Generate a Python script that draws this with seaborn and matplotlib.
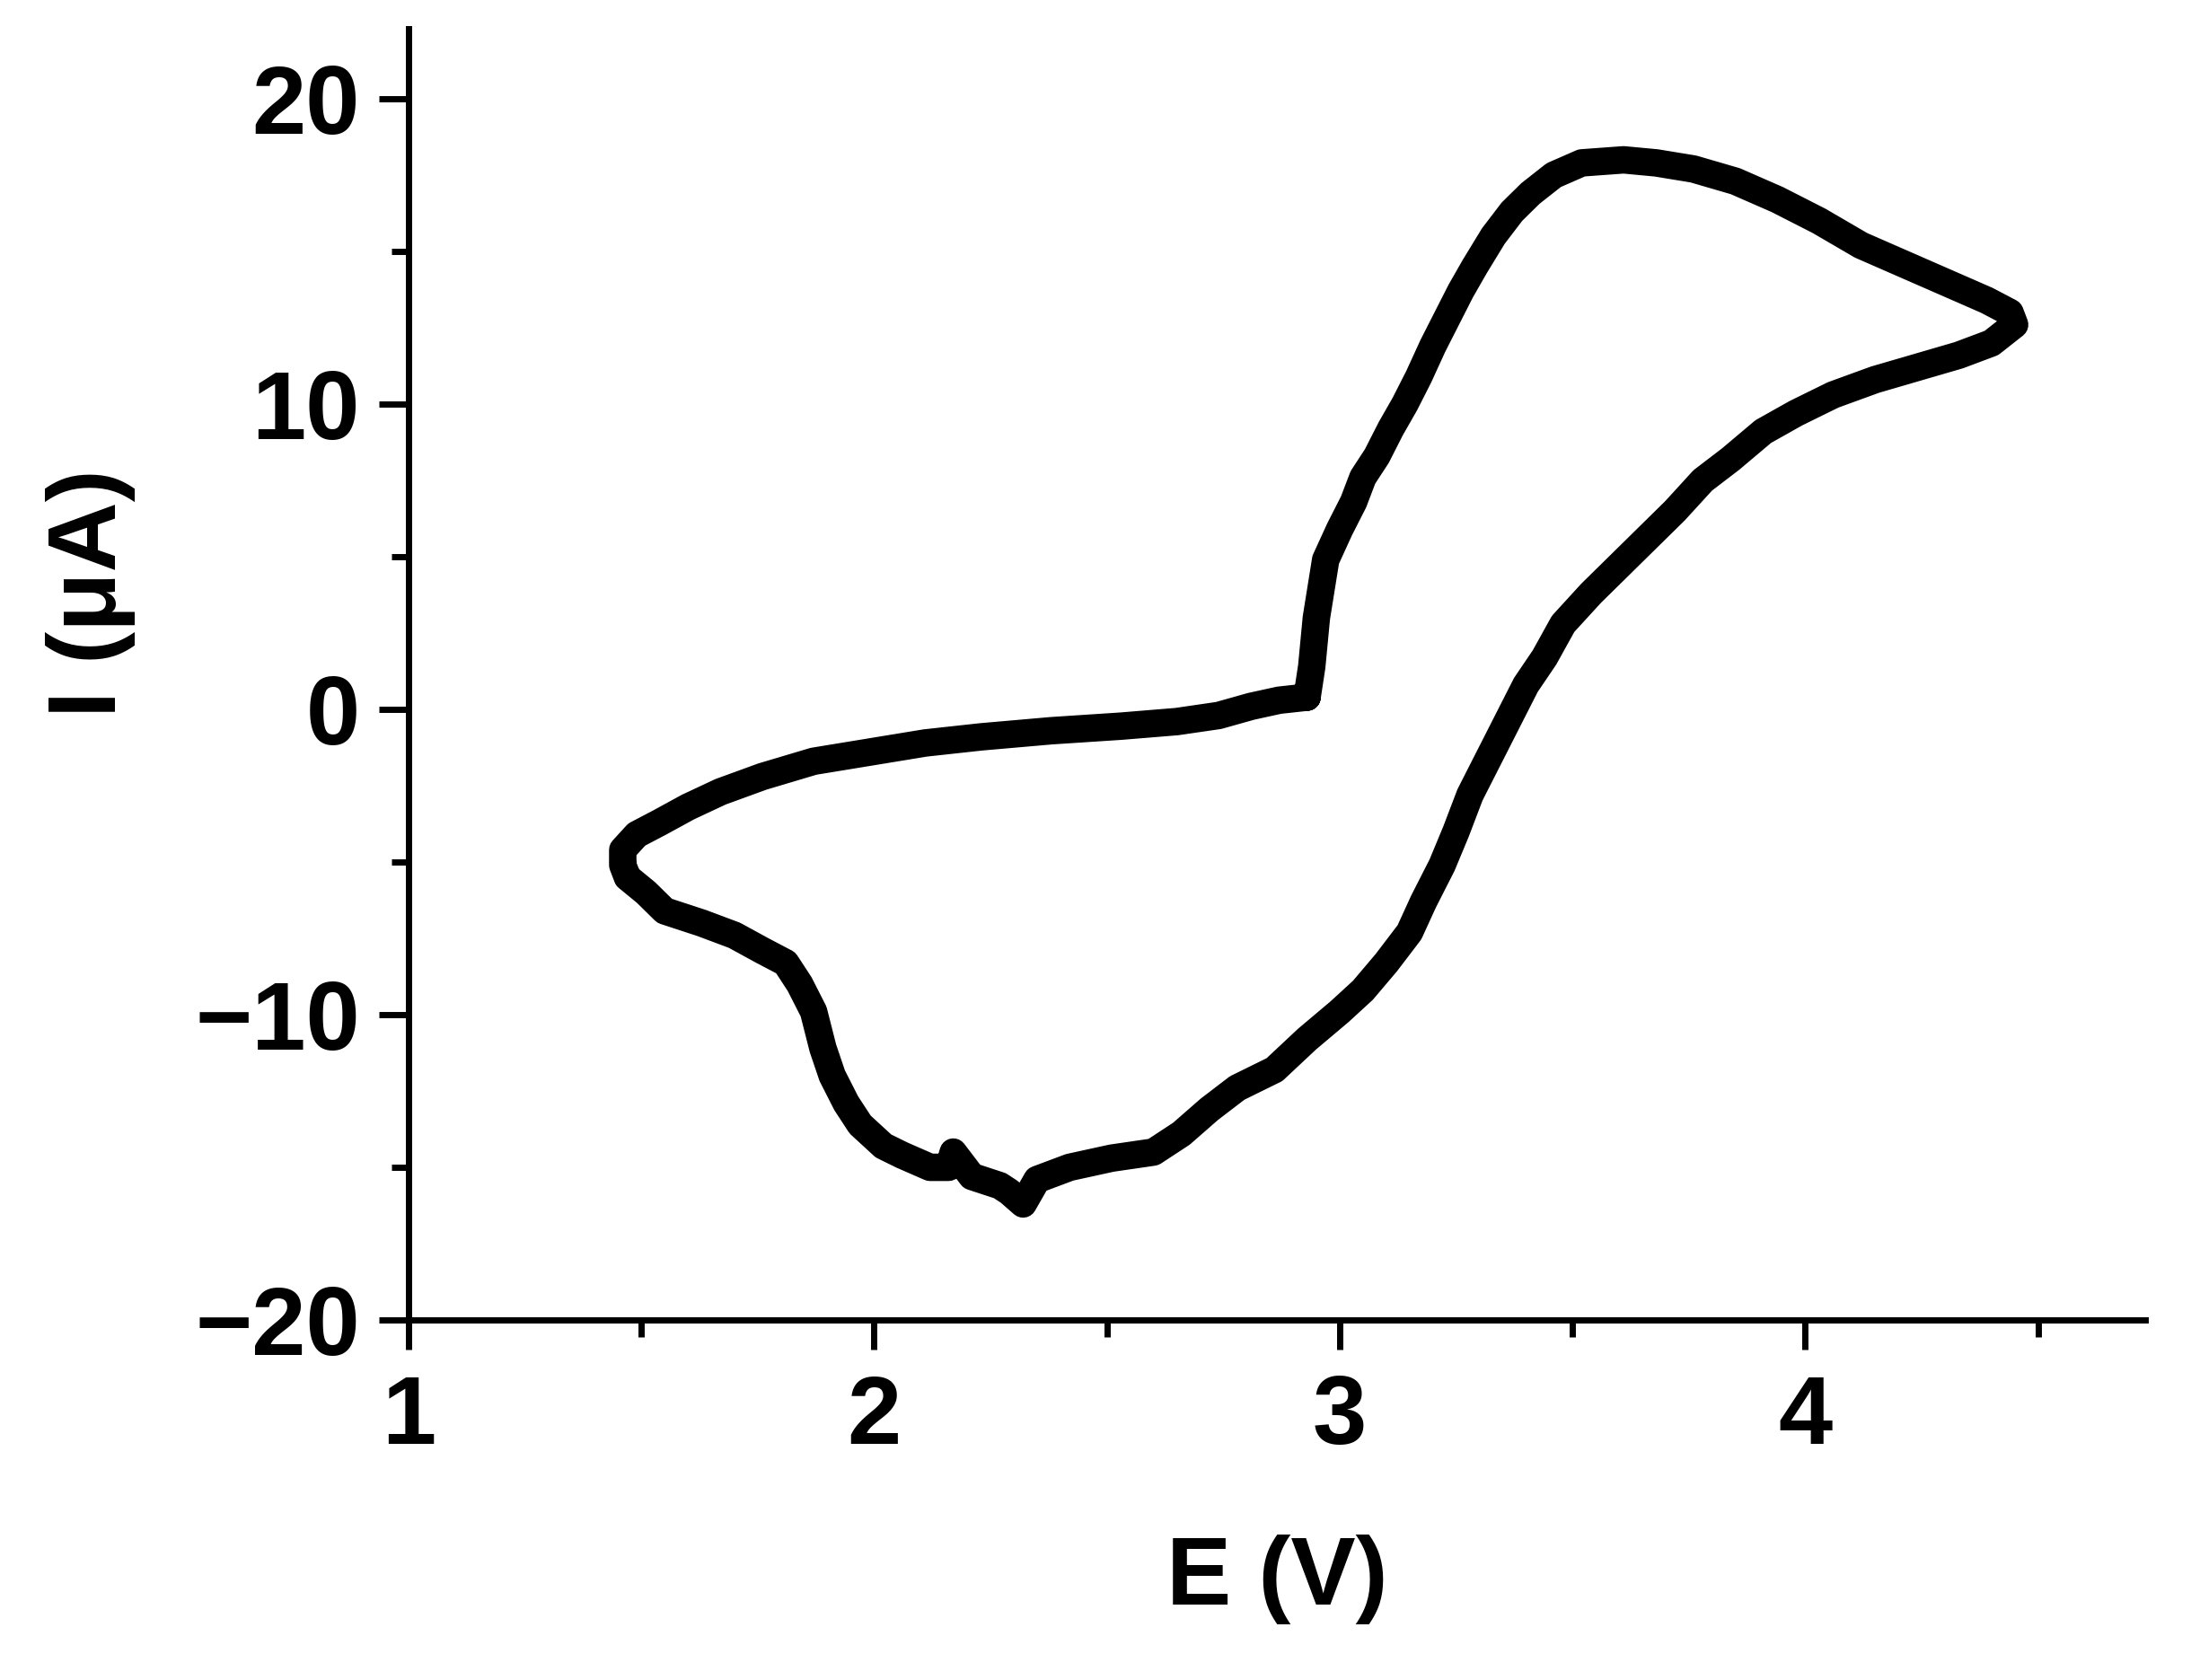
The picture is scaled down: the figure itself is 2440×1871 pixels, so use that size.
import numpy as np
import pandas as pd
import matplotlib
matplotlib.use('Agg')
import matplotlib.pyplot as plt
import seaborn as sns
from matplotlib.ticker import MultipleLocator

# ─── Data: one CV loop ───────────────────────────────────────────────────
E_V = [
    2.93, 2.94, 2.95, 2.97, 3.00, 3.03, 3.05, 3.08, 3.11, 3.14, 3.17, 3.20,
    3.23, 3.26, 3.29, 3.33, 3.37, 3.41, 3.46, 3.52, 3.61, 3.68, 3.76, 3.85,
    3.94, 4.03, 4.12, 4.21, 4.30, 4.39, 4.44, 4.45,
    4.40, 4.33, 4.24, 4.15, 4.06, 3.98, 3.91, 3.84, 3.78, 3.72, 3.66, 3.60,
    3.54, 3.48, 3.44, 3.40, 3.37, 3.34, 3.31, 3.28, 3.25, 3.22, 3.18, 3.15,
    3.10, 3.05, 3.00, 2.93, 2.86, 2.78, 2.72, 2.66, 2.60, 2.51, 2.42, 2.35,
    2.32, 2.29, 2.27, 2.21, 2.17, 2.16, 2.12, 2.06, 2.02, 1.97, 1.94, 1.91,
    1.89, 1.87, 1.84, 1.81, 1.76, 1.70, 1.63, 1.55, 1.51, 1.47, 1.46, 1.46,
    1.49, 1.54, 1.60, 1.67, 1.76, 1.87, 1.99, 2.11, 2.23, 2.38, 2.53, 2.65,
    2.74, 2.81, 2.87, 2.93,
]
I_uA = [
    0.4, 1.4, 3.0, 4.9, 5.9, 6.8, 7.6, 8.3, 9.2, 10.0, 10.9, 11.9,
    12.8, 13.7, 14.5, 15.5, 16.3, 16.9, 17.5, 17.9, 18.0, 17.9, 17.7, 17.3,
    16.7, 16.0, 15.2, 14.6, 14.0, 13.4, 13.0, 12.6,
    12.0, 11.6, 11.2, 10.8, 10.3, 9.7, 9.1, 8.2, 7.5, 6.5, 5.6, 4.7,
    3.8, 2.8, 1.7, 0.8, -0.1, -1.0, -1.9, -2.8, -4.0, -5.1, -6.3, -7.3,
    -8.3, -9.2, -9.9, -10.8, -11.8, -12.4, -13.1, -13.9, -14.5, -14.7, -15.0, -15.4,
    -16.2, -15.8, -15.6, -15.3, -14.5, -15.0, -15.0, -14.6, -14.3, -13.6, -12.9, -12.0,
    -11.1, -9.9, -9.0, -8.3, -7.9, -7.4, -7.0, -6.6, -6.0, -5.5, -5.1, -4.6,
    -4.1, -3.7, -3.2, -2.7, -2.2, -1.7, -1.4, -1.1, -0.9, -0.7, -0.55, -0.4,
    -0.2, 0.1, 0.3, 0.4,
]

X_TICKS = [1, 2, 3, 4]
Y_TICKS = [-20, -10, 0, 10, 20]

df = pd.DataFrame({'E': E_V, 'I': I_uA})

# ─── Style ───────────────────────────────────────────────────────────────
sns.set_style('ticks')
plt.rcParams['font.family'] = ['Liberation Sans', 'DejaVu Sans']
plt.rcParams['font.weight'] = 'bold'
for key in ['text.color', 'axes.labelcolor', 'xtick.color', 'ytick.color',
            'axes.edgecolor']:
    plt.rcParams[key] = 'black'

fig = plt.figure(figsize=(24.4, 18.71), dpi=100)
ax = fig.add_axes([0.1865, 0.2143, 0.979 - 0.1865, 0.983 - 0.2143])

sns.lineplot(data=df, x='E', y='I', sort=False, estimator=None,
             color='black', linewidth=22, ax=ax)

ax.set_xlim(1, 4.73)
ax.set_ylim(-20, 22.3)
ax.set_xticks(X_TICKS)
ax.set_yticks(Y_TICKS)
ax.xaxis.set_minor_locator(MultipleLocator(0.5))
ax.yaxis.set_minor_locator(MultipleLocator(5))

sns.despine(ax=ax)
for side in ['left', 'bottom']:
    ax.spines[side].set_linewidth(5)
    ax.spines[side].set_color('black')

ax.tick_params(which='major', length=24, width=5, color='black',
               labelsize=78, labelcolor='black', direction='out')
ax.tick_params(which='minor', length=14, width=5, color='black',
               direction='out')
ax.tick_params(axis='x', which='major', pad=19)
ax.tick_params(axis='y', which='major', pad=15)
for lbl in ax.get_xticklabels() + ax.get_yticklabels():
    lbl.set_fontweight('bold')

ax.set_xlabel('E (V)', fontsize=78, fontweight='bold', labelpad=57,
              color='black')
ax.set_ylabel('I (μA)', fontsize=78, fontweight='bold', color='black')
ax.yaxis.set_label_coords(-0.157, 0.5626)

fig.savefig('out.png', dpi=100)
plt.close(fig)
